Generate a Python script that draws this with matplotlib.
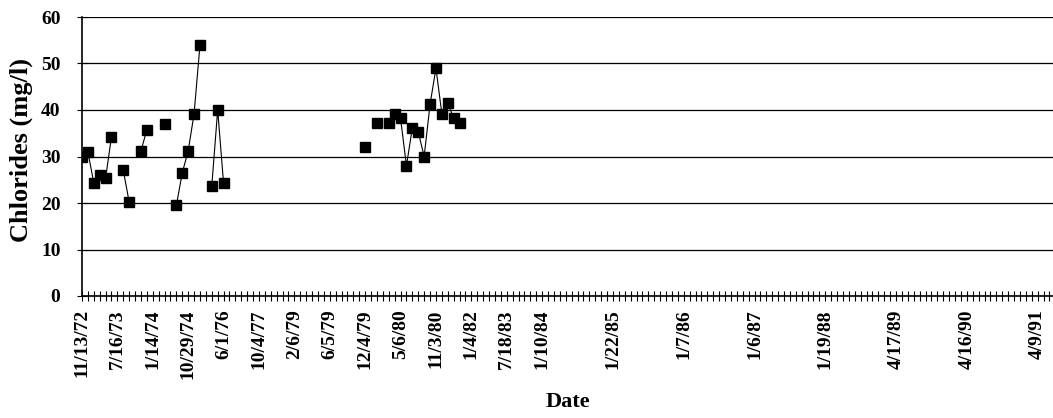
import numpy as np
import matplotlib
matplotlib.use("Agg")
import matplotlib.pyplot as plt

# category slots along the x axis (Excel-style category axis)
n_categories = 165

# sample positions (category index) and chloride values (mg/l)
sample_idx = [0, 1, 2, 3, 4, 5, 7, 8, 10, 11, 14, 16, 17, 18, 19, 20, 22, 23, 24,
              48, 50, 52, 53, 54, 55, 56, 57, 58, 59, 60, 61, 62, 63, 64]
chlorides = [30, 31, 24.3, 26, 25.3, 34.3, 27, 20.2, 31.2, 35.8, 37, 19.5, 26.5, 31.2, 39.2, 54, 23.7, 40, 24.2,
             32, 37.2, 37.2, 39.2, 38.2, 28, 36.2, 35.3, 30, 41.2, 49, 39.2, 41.5, 38.2, 37.2]

# date labels shown on the axis
label_idx = [0, 6, 12, 18, 24, 30, 36, 42, 48, 54, 60, 66, 72, 78, 90, 102, 114, 126, 138, 150, 162]
label_text = ['11/13/72', '7/16/73', '1/14/74', '10/29/74', '6/1/76', '10/4/77', '2/6/79', '6/5/79',
              '12/4/79', '5/6/80', '11/3/80', '1/4/82', '7/18/83', '1/10/84', '1/22/85', '1/7/86',
              '1/6/87', '1/19/88', '4/17/89', '4/16/90', '4/9/91']

plt.rcParams['font.family'] = 'Liberation Serif'

# fill series with NaN where no sample so the line breaks like Excel's gaps
series = np.full(n_categories, np.nan)
series[sample_idx] = chlorides

fig = plt.figure(figsize=(10.53, 4.18), dpi=100)
ax = fig.add_axes([82 / 1053, 1 - 296 / 418, 971 / 1053, 279 / 418])

x = np.arange(n_categories)
ax.plot(x, series, color='black', lw=0.8, marker='s', markersize=6.5, zorder=3)

ax.set_ylim(0, 60)
ax.set_xlim(0, 164.6)
ax.set_yticks(np.arange(0, 61, 10))
ax.yaxis.grid(True, color='black', lw=0.9)
ax.set_axisbelow(True)

labels = [''] * n_categories
for i, t in zip(label_idx, label_text):
    labels[i] = t
ax.set_xticks(x)
ax.set_xticklabels(labels, rotation=90, fontsize=14, fontweight='bold')
ax.tick_params(axis='x', direction='inout', length=7, width=0.8, pad=6)
ax.tick_params(axis='y', direction='inout', length=7, width=0.8, pad=12)
for lbl in ax.get_yticklabels():
    lbl.set_fontsize(14)
    lbl.set_fontweight('bold')

for s in ['top', 'right']:
    ax.spines[s].set_visible(False)
ax.spines['left'].set_linewidth(1.2)
ax.spines['bottom'].set_linewidth(1.2)

ax.set_ylabel('Chlorides (mg/l)', fontsize=19, fontweight='bold')
ax.yaxis.set_label_coords(-0.05, 0.525)
ax.set_xlabel('Date', fontsize=16, fontweight='bold', labelpad=10)

fig.savefig('out.png', dpi=100)
